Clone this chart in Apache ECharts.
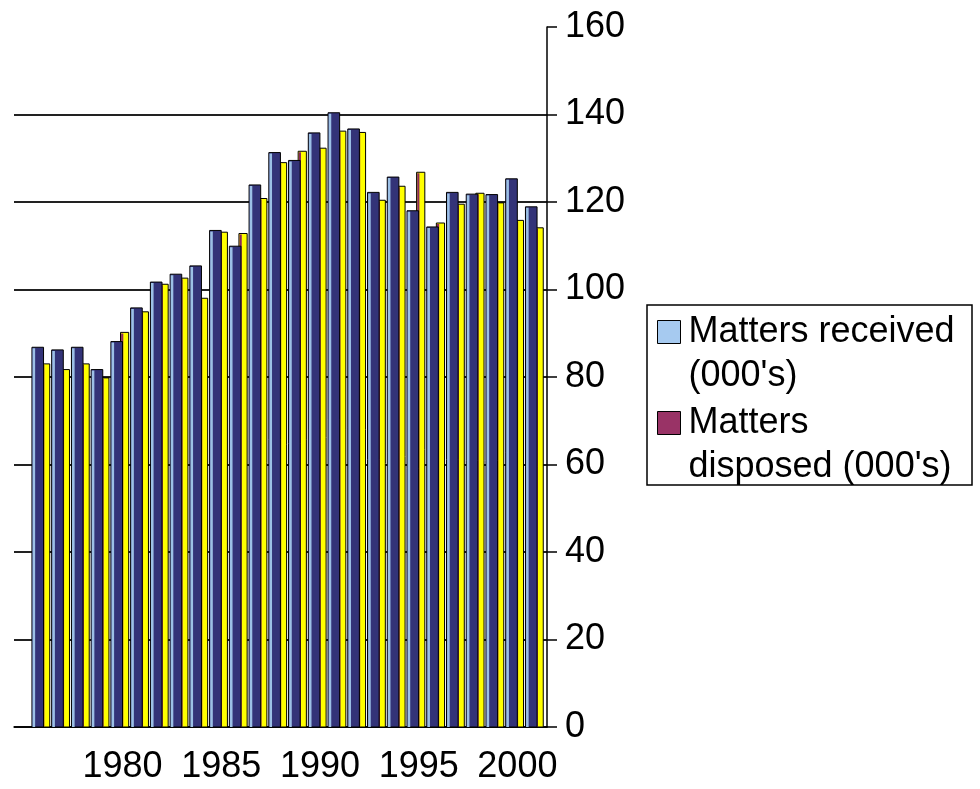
<html>
<head>
    <meta charset='UTF-8'>
    <script src='https://cdn.jsdelivr.net/npm/echarts@6/dist/echarts.min.js'></script>
    <style>
        html, body { margin: 0; padding: 0; background: #fff; }
        #chart { width: 980px; height: 789px; }
    </style>
</head>
<body>
    <div id="chart"></div>
    <script>
        // years on the category axis (1975 has no bars)
        const years = ['1975', '1976', '1977', '1978', '1979', '1980', '1981', '1982', '1983', '1984',
            '1985', '1986', '1987', '1988', '1989', '1990', '1991', '1992', '1993', '1994',
            '1995', '1996', '1997', '1998', '1999', '2000', '2001']
        // thousands of matters
        const received = [null, 86.8, 86.2, 86.8, 81.7, 88.1, 95.8, 101.7, 103.5, 105.4,
            113.5, 109.9, 123.9, 131.3, 129.5, 135.8, 140.4, 136.7, 122.2, 125.7,
            118.0, 114.3, 122.2, 121.8, 121.7, 125.3, 118.9]
        const disposed = [null, 83.0, 81.7, 83.0, 79.8, 90.2, 94.9, 101.2, 102.6, 98.0,
            113.1, 112.8, 120.8, 129.0, 131.6, 132.3, 136.2, 135.9, 120.4, 123.6,
            126.8, 115.2, 119.5, 122.0, 119.8, 115.8, 114.1]
        const labelYears = ['1980', '1985', '1990', '1995', '2000']

        const FONT = 'Liberation Sans'
        const NAVY = '#333378'
        const LIGHT = '#9cc0e6'
        const YELLOW = '#ffff00'
        const PURPLE = '#8a2a5c'

        // faux 3D column: thin front face + wide side face
        function column(api, frontColor, sideColor, x0, frontW, sideW) {
            const v = api.value(1)
            if (v == null || isNaN(v)) return null
            const top = api.coord([api.value(0), v])
            const base = api.coord([api.value(0), 0])
            const bw = api.size([1, 0])[0]
            const s = bw / 19.74
            const left = top[0] - bw / 2
            const h = base[1] - top[1]
            return {
                type: 'group',
                children: [
                    { type: 'rect', shape: { x: left + x0 * s, y: top[1], width: (frontW + sideW) * s, height: h },
                      style: { fill: sideColor, stroke: '#000', lineWidth: 1 } },
                    { type: 'rect', shape: { x: left + (x0 + 0.6) * s, y: top[1] + 1, width: frontW * s, height: h - 1 },
                      style: { fill: frontColor } }
                ]
            }
        }

        const chart = echarts.init(document.getElementById('chart'))
        chart.setOption({
            backgroundColor: '#fff',
            animation: false,
            grid: { left: 14, right: 433, top: 27, bottom: 62 },
            legend: {
                orient: 'vertical',
                left: 657,
                top: 266,
                padding: 0,
                itemGap: -41,
                itemWidth: 23,
                itemHeight: 23,
                icon: 'rect',
                selectedMode: false,
                // leading blank line keeps the first text line level with the icon
                formatter: name => '\n' + name,
                textStyle: { fontFamily: FONT, fontSize: 36, lineHeight: 44, color: '#000', padding: [0, 0, 0, 3] },
                data: [
                    { name: "Matters received\n(000's)", itemStyle: { color: '#a6caf0', borderColor: '#000', borderWidth: 1 } },
                    { name: "Matters\ndisposed (000's)", itemStyle: { color: '#993366', borderColor: '#000', borderWidth: 1 } }
                ]
            },
            graphic: [{
                type: 'rect', z: -1,
                shape: { x: 647, y: 305, width: 325, height: 180 },
                style: { fill: '#fff', stroke: '#000', lineWidth: 1.5 }
            }],
            xAxis: {
                type: 'category',
                data: years,
                axisLine: { lineStyle: { color: '#000', width: 1.5 } },
                axisTick: { interval: 0, length: 6, lineStyle: { color: '#000', width: 1.5 } },
                axisLabel: {
                    interval: 0,
                    margin: 22,
                    fontFamily: FONT, fontSize: 36, color: '#000',
                    formatter: v => labelYears.includes(v) ? v : ''
                },
                splitLine: { show: false }
            },
            yAxis: {
                type: 'value',
                position: 'right',
                min: 0, max: 160, interval: 20,
                axisLine: { show: true, lineStyle: { color: '#000', width: 1.5 } },
                axisTick: { show: true, length: 10, lineStyle: { color: '#000', width: 1.5 } },
                axisLabel: { margin: 18, fontFamily: FONT, fontSize: 36, color: '#000' },
                splitLine: { show: true, showMaxLine: false, lineStyle: { color: '#222', width: 2 } }
            },
            series: [
                {
                    name: "Matters received\n(000's)",
                    type: 'custom',
                    z: 3,
                    itemStyle: { color: '#a6caf0' },
                    encode: { x: 0, y: 1 },
                    data: received.map((v, i) => [i, v]),
                    renderItem: (params, api) => column(api, LIGHT, NAVY, -1.8, 2.6, 9.0)
                },
                {
                    name: "Matters\ndisposed (000's)",
                    type: 'custom',
                    z: 2,
                    itemStyle: { color: '#993366' },
                    encode: { x: 0, y: 1 },
                    data: disposed.map((v, i) => [i, v]),
                    renderItem: (params, api) => column(api, PURPLE, YELLOW, 7.8, 2.2, 6.0)
                }
            ]
        })
    </script>
</body>
</html>
